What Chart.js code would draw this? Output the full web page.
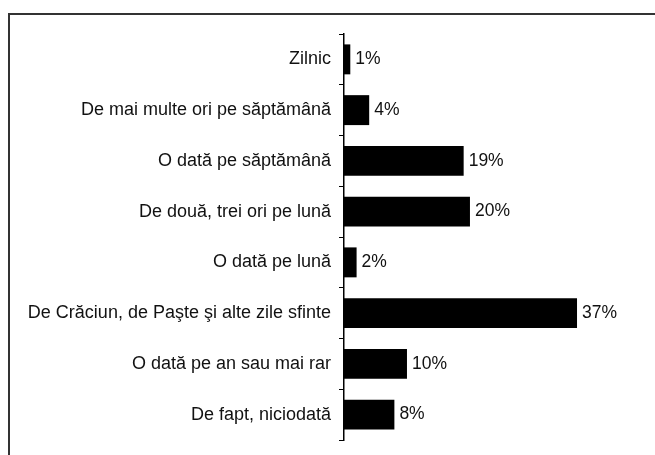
<!DOCTYPE html>
<html lang="ro">
<head>
  <meta charset="UTF-8">
  <title>Frecvența</title>
  <style>
    body {
      margin: 0;
      background: #ffffff;
      overflow: hidden;
      width: 655px;
      height: 455px;
      position: relative;
    }

    .frame {
      position: absolute;
      left: 8px;
      top: 13px;
      width: 700px;
      height: 500px;
      border: 2px solid #333333;
    }

    canvas {
      position: absolute;
      left: 0;
      top: 0;
    }
  </style>
</head>
<body>
  <div class="frame"></div>
  <canvas id="chart" width="655" height="455"></canvas>
  <script src="https://cdn.jsdelivr.net/npm/chart.js"></script>
  <script>
    const categories = [
      "Zilnic",
      "De mai multe ori pe săptămână",
      "O dată pe săptămână",
      "De două, trei ori pe lună",
      "O dată pe lună",
      "De Crăciun, de Paşte şi alte zile sfinte",
      "O dată pe an sau mai rar",
      "De fapt, niciodată"
    ];
    const percentages = [1, 4, 19, 20, 2, 37, 10, 8];

    const fontFamily = "'Liberation Sans', Arial, sans-serif";

    // writes the % next to the end of each bar
    const valueLabels = {
      id: "valueLabels",
      afterDatasetsDraw(chart) {
        const ctx = chart.ctx;
        const meta = chart.getDatasetMeta(0);
        ctx.save();
        ctx.font = "17.5px " + fontFamily;
        ctx.fillStyle = "#111111";
        ctx.textAlign = "left";
        ctx.textBaseline = "middle";
        meta.data.forEach((bar, i) => {
          ctx.fillText(percentages[i] + "%", bar.x + 5, bar.y);
        });
        ctx.restore();
      }
    };

    new Chart(document.getElementById("chart"), {
      type: "bar",
      data: {
        labels: categories,
        datasets: [{
          data: percentages,
          backgroundColor: "#000000",
          borderWidth: 0,
          categoryPercentage: 1,
          barPercentage: 0.59
        }]
      },
      options: {
        indexAxis: "y",
        responsive: false,
        animation: false,
        layout: {
          padding: { top: 34, bottom: 15, right: 15, left: 0 }
        },
        scales: {
          x: {
            display: false,
            min: 0,
            max: 47
          },
          y: {
            afterFit(scale) {
              scale.width = 344;
              scale.paddingTop = 0;
              scale.paddingBottom = 0;
            },
            grid: {
              offset: true,
              drawOnChartArea: false,
              drawTicks: true,
              tickLength: 5,
              color: "#000000"
            },
            border: { display: true, color: "#000000", width: 1.5 },
            ticks: {
              color: "#111111",
              padding: 8,
              font: { family: fontFamily, size: 18 }
            }
          }
        },
        plugins: {
          legend: { display: false },
          tooltip: { enabled: false }
        }
      },
      plugins: [valueLabels]
    });
  </script>
</body>
</html>
